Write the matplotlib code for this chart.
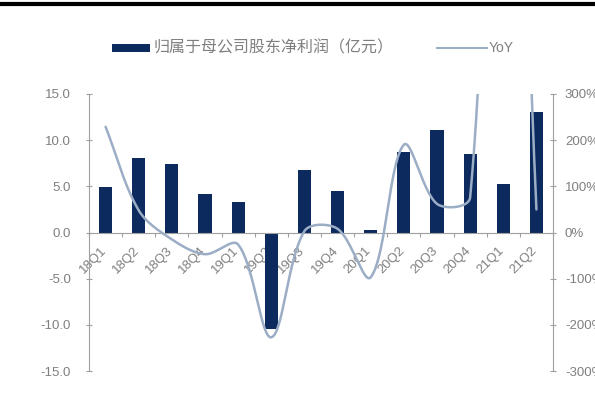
import numpy as np
import matplotlib
matplotlib.use("Agg")
import matplotlib.pyplot as plt
from matplotlib.patches import Rectangle
from matplotlib.lines import Line2D
from matplotlib.transforms import ScaledTranslation

plt.rcParams['font.family'] = ['Liberation Sans', 'Noto Sans CJK SC', 'DejaVu Sans']

# Quarterly data
quarters = ["18Q1", "18Q2", "18Q3", "18Q4", "19Q1", "19Q2", "19Q3",
            "19Q4", "20Q1", "20Q2", "20Q3", "20Q4", "21Q1", "21Q2"]
net_profit = [4.9, 8.1, 7.4, 4.2, 3.25, -10.4, 6.8,
              4.45, 0.3, 8.7, 11.05, 8.55, 5.2, 13.1]          # 亿元
yoy_pct = [229, 48, -15, -47, -26, -227, 3,
           8, -97, 190, 62, 76, 1600, 50]                        # %

bar_label = "归属于母公司股东净利润（亿元）"
line_label = "YoY"
left_ticks = [15.0, 10.0, 5.0, 0.0, -5.0, -10.0, -15.0]
right_ticks = [300, 200, 100, 0, -100, -200, -300]

BAR_COLOR = "#0c2a5e"
LINE_COLOR = "#9cadc6"
TEXT_COLOR = "#7f7f7f"
AXIS_COLOR = "#a0a0a0"


def smooth_curve(xv, yv, sx=1.0, sy=1.0, steps=60):
    """Spreadsheet-style smoothed line: cubic Bezier segments whose control
    points follow the neighbour chord, scaled by adjacent segment lengths
    (measured in a display-like space given by sx, sy)."""
    P = np.column_stack([np.asarray(xv, float) * sx, np.asarray(yv, float) * sy])
    n = len(P)
    c_out = P.copy()
    c_in = P.copy()
    for i in range(n):
        if 0 < i < n - 1:
            T = P[i + 1] - P[i - 1]
            d0 = np.linalg.norm(P[i] - P[i - 1])
            d1 = np.linalg.norm(P[i + 1] - P[i])
            tot = d0 + d1
            c_in[i] = P[i] - T * (d0 / tot) / 3
            c_out[i] = P[i] + T * (d1 / tot) / 3
        elif i == 0:
            c_out[i] = P[i] + (P[1] - P[0]) / 3
        else:
            c_in[i] = P[i] - (P[i] - P[i - 1]) / 3
    t = np.linspace(0, 1, steps)[:, None]
    segs = []
    for i in range(n - 1):
        b = ((1 - t) ** 3 * P[i] + 3 * (1 - t) ** 2 * t * c_out[i]
             + 3 * (1 - t) * t ** 2 * c_in[i + 1] + t ** 3 * P[i + 1])
        segs.append(b if i == 0 else b[1:])
    B = np.vstack(segs)
    return B[:, 0] / sx, B[:, 1] / sy


W, H = 595, 401
fig = plt.figure(figsize=(W / 100, H / 100), dpi=100)
fig.patch.set_facecolor("white")

# header rule
fig.add_artist(Line2D([0, 1], [1 - 4 / H, 1 - 4 / H], color="black", lw=3,
                      transform=fig.transFigure))

ax = fig.add_axes([89 / W, 30 / H, (553 - 89) / W, (371 - 94) / H])
x = np.arange(len(quarters))
ax.bar(x, net_profit, width=0.4, color=BAR_COLOR, zorder=2)
ax.set_xlim(-0.5, len(quarters) - 0.5)
ax.set_ylim(-15, 15)

for s in ("top", "right"):
    ax.spines[s].set_visible(False)
ax.spines["left"].set_color(AXIS_COLOR)
ax.spines["bottom"].set_position(("data", 0))
ax.spines["bottom"].set_color(AXIS_COLOR)
ax.spines["bottom"].set_zorder(3)

ax.set_yticks(left_ticks)
ax.set_yticklabels([f"{v:.1f}" for v in left_ticks])
ax.tick_params(axis="y", direction="inout", length=5, width=0.8,
               color=AXIS_COLOR, labelcolor=TEXT_COLOR, labelsize=9.5, pad=10.5)

ax.set_xticks(x)
ax.set_xticklabels(quarters, rotation=45, ha="right", va="top")
ax.set_xticks(np.arange(-0.5, len(quarters)), minor=True)
ax.tick_params(axis="x", which="major", length=0, pad=8.5,
               labelcolor=TEXT_COLOR, labelsize=9.5)
ax.tick_params(axis="x", which="minor", direction="out", length=3,
               width=0.8, color=AXIS_COLOR)
shift = ScaledTranslation(3 / 100, 0, fig.dpi_scale_trans)
for lbl in ax.get_xticklabels():
    lbl.set_transform(lbl.get_transform() + shift)

ax2 = ax.twinx()
ax2.set_ylim(-300, 300)
for s in ("top", "left", "bottom"):
    ax2.spines[s].set_visible(False)
ax2.spines["right"].set_color(AXIS_COLOR)
ax2.set_yticks(right_ticks)
ax2.set_yticklabels([f"{v}%" for v in right_ticks])
ax2.tick_params(axis="y", direction="inout", length=5, width=0.8,
                color=AXIS_COLOR, labelcolor=TEXT_COLOR, labelsize=9.5, pad=6.1)

# pixel scale of one category step and of one percent, used for smoothing
px_per_cat = (553 - 89) / len(quarters)
px_per_pct = (371 - 94) / 600
cx, cy = smooth_curve(x, yoy_pct, sx=px_per_cat, sy=px_per_pct)
ax2.plot(cx, cy, color=LINE_COLOR, lw=1.8, solid_capstyle="round", zorder=3)

# legend
fig.add_artist(Rectangle((112 / W, 1 - 52 / H), 38 / W, 8 / H,
                         transform=fig.transFigure, color=BAR_COLOR, lw=0))
fig.text(154 / W, 1 - 48 / H, bar_label, color=TEXT_COLOR, fontsize=11.5,
         family=["Noto Sans CJK SC", "DejaVu Sans"], ha="left", va="center")
fig.add_artist(Line2D([437 / W, 487 / W], [1 - 48 / H, 1 - 48 / H],
                      color=LINE_COLOR, lw=1.5, transform=fig.transFigure))
fig.text(489 / W, 1 - 48 / H, line_label, color=TEXT_COLOR, fontsize=10,
         ha="left", va="center")

fig.savefig("out.png", dpi=100, facecolor="white")
